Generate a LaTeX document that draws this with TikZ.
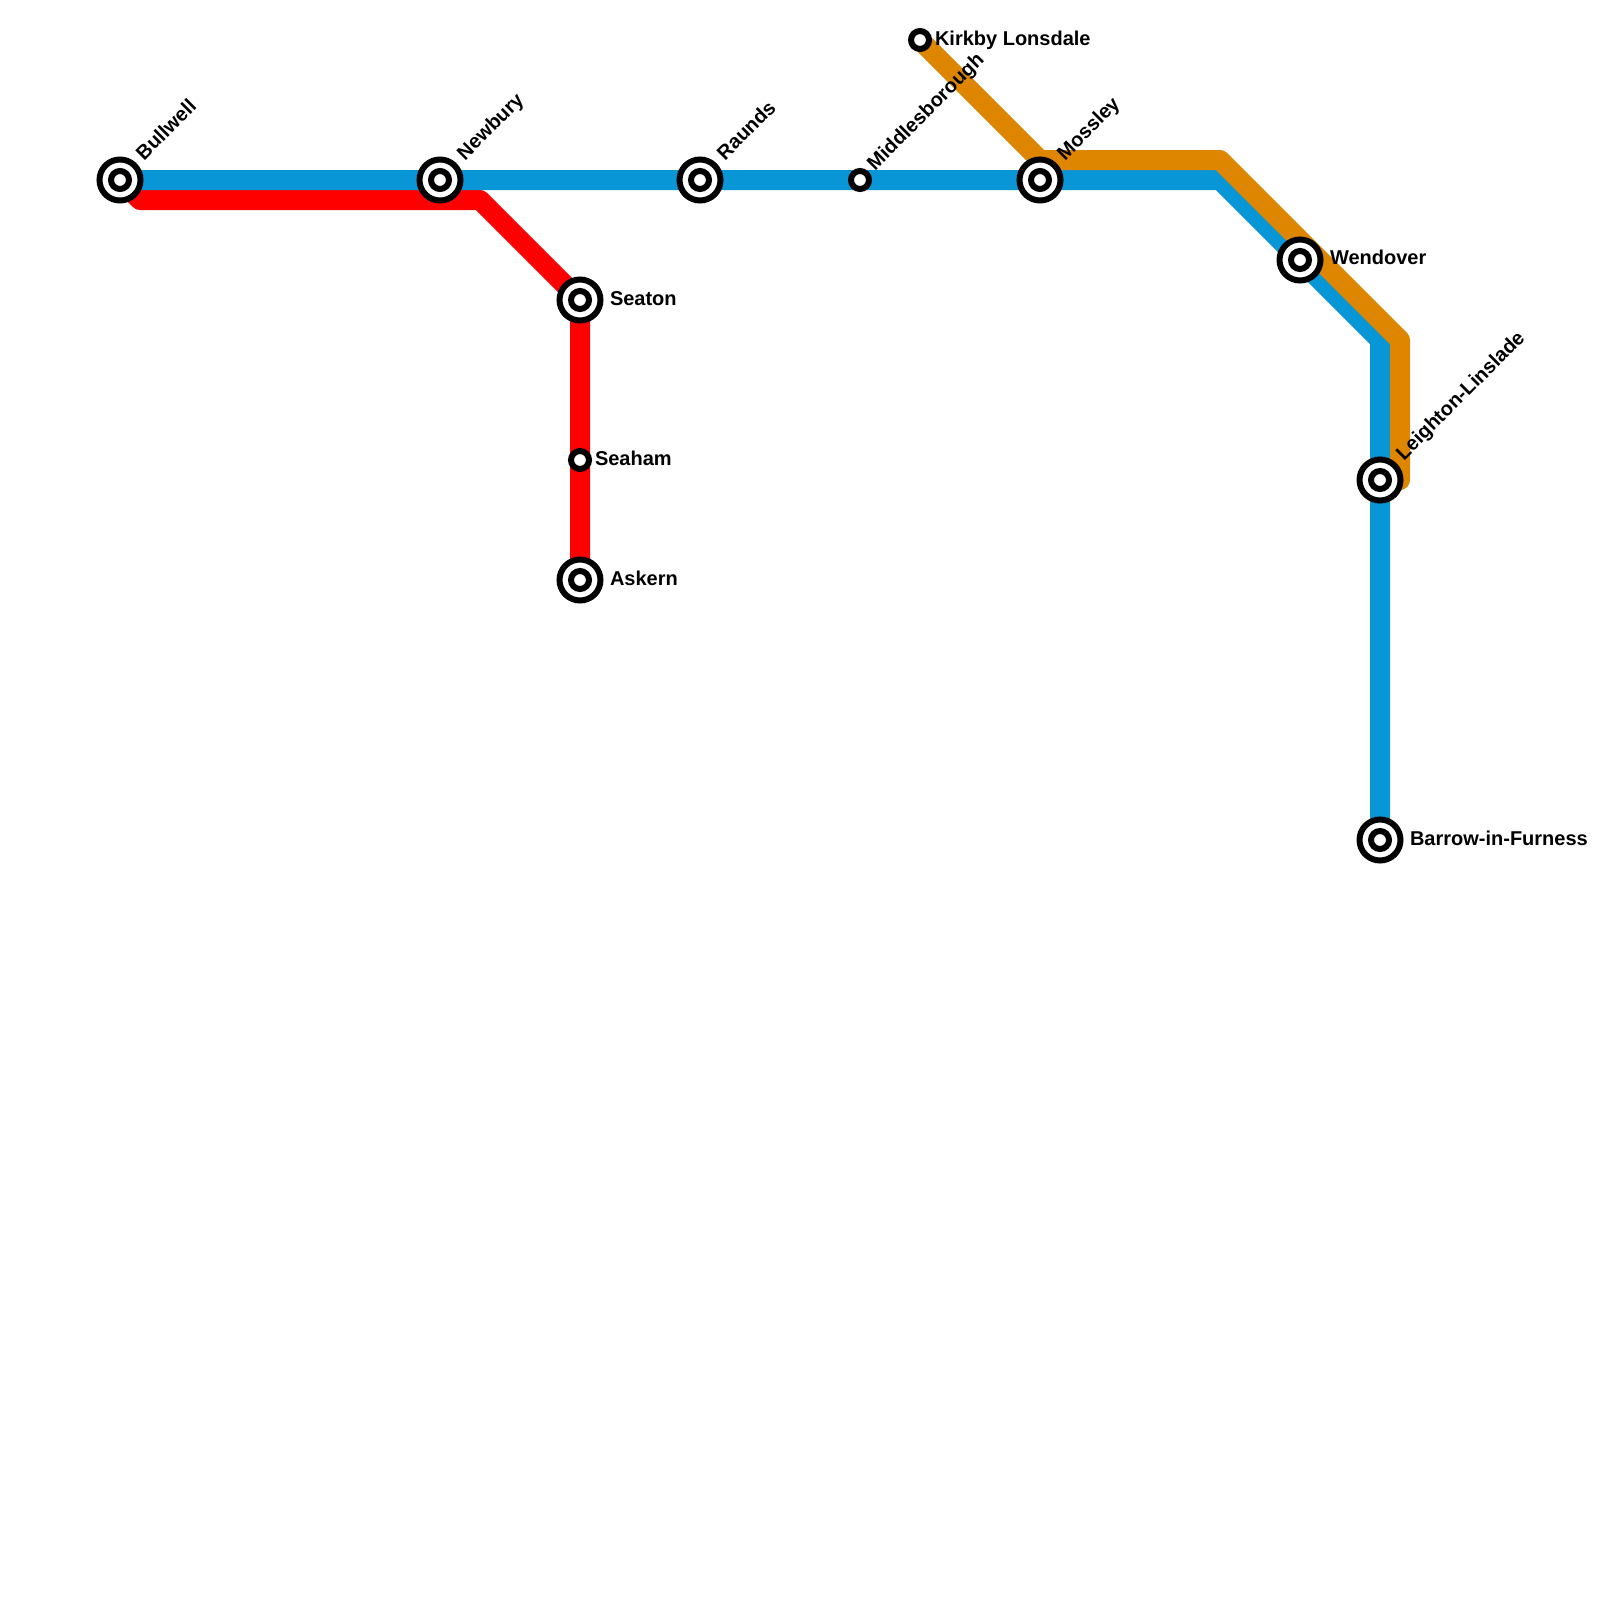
\documentclass[tikz,border=0pt]{standalone}
\usepackage{fontspec}
\setmainfont{Liberation Sans}
\pgfdeclarelayer{lines}
\pgfsetlayers{lines,main}
\definecolor{blueline}{HTML}{0896D7}
\definecolor{redline}{HTML}{FF0000}
\definecolor{orangeline}{HTML}{DF8600}
\tikzset{
  route/.style={line width=20pt,line join=round,line cap=butt},
  bigstop/.style={circle,draw=black,fill=white,line width=6pt,inner sep=0pt,minimum size=41pt,outer sep=0pt},
  smallstop/.style={circle,draw=black,fill=white,line width=6pt,inner sep=0pt,minimum size=18pt,outer sep=0pt},
  lab/.style={inner sep=0pt,outer sep=0pt,anchor=base west,font=\fontsize{20}{20}\bfseries\selectfont,text=black},
  dlab/.style={lab,rotate=45},
}
\begin{document}
\begin{tikzpicture}[x=1pt,y=-1pt]
\useasboundingbox (0,0) rectangle (1600,1600);
% stations
\foreach \n/\x/\y in {bullwell/120/180,newbury/440/180,raunds/700/180,mossley/1040/180,wendover/1300/260,leighton/1380/480,barrow/1380/840,seaton/580/300,askern/580/580}{
  \node[bigstop] (\n) at (\x,\y) {};
  \node[smallstop] (\n-in) at (\x,\y) {};
}
\node[smallstop] (middlesborough) at (860,180) {};
\node[smallstop] (seaham) at (580,460) {};
\node[smallstop] (kirkby) at (920,40) {};
% bends
\coordinate (b1) at (1220,180);
\coordinate (b2) at (1380,340);
\coordinate (r1) at (140,200);
\coordinate (r2) at (480,200);
\coordinate (o1) at (1040,160);
\coordinate (o2) at (1220,160);
\coordinate (o3) at (1400,340);
\coordinate (o4) at (1400,480);
\begin{pgfonlayer}{lines}
\fill[white] (0,0) rectangle (1600,1600);
\draw[route,redline] (bullwell.center) -- (r1) -- (r2) -- (seaton.center) -- (seaham.center) -- (askern.center);
\draw[route,blueline] (bullwell.center) -- (newbury.center) -- (raunds.center) -- (middlesborough.center) -- (mossley.center) -- (b1) -- (wendover.center) -- (b2) -- (leighton.center) -- (barrow.center);
\draw[route,orangeline] (kirkby.center) -- (o1) -- (o2) -- (o3) -- (o4) -- (leighton.center);
\end{pgfonlayer}
% labels
\node[dlab] (l1) at (144,161) {Bullwell};
\node[dlab] (l2) at (465,161) {Newbury};
\node[dlab] (l3) at (725,161) {Raunds};
\node[dlab] (l4) at (875,171) {Middlesborough};
\node[dlab] (l5) at (1065,161) {Mossley};
\node[dlab] (l6) at (1404,461) {Leighton-Linslade};
\node[lab] (l7) at (1330,264) {Wendover};
\node[lab] (l8) at (1410,845) {Barrow-in-Furness};
\node[lab] (l9) at (610,305) {Seaton};
\node[lab] (l10) at (595,465) {Seaham};
\node[lab] (l11) at (610,585) {Askern};
\node[lab] (l12) at (935,46) {Kirkby Lonsdale};
\end{tikzpicture}
\end{document}
